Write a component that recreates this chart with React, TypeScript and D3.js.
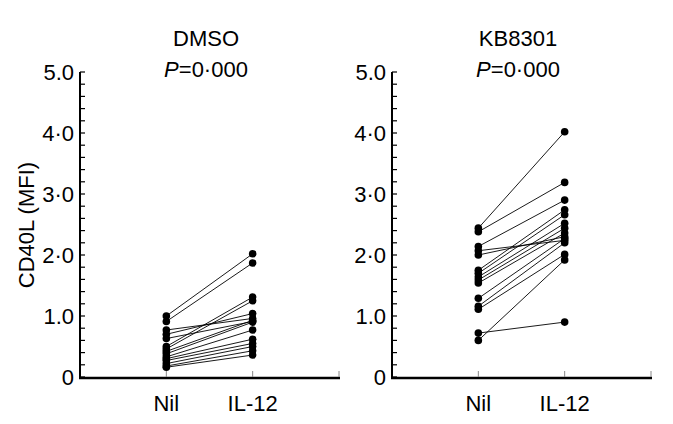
import React from "react";
import * as d3 from "d3";

const groups = ["Nil", "IL-12"];
const yTickValues = [0, 1, 2, 3, 4, 5];
const yTickLabels = ["0", "1.0", "2·0", "3·0", "4·0", "5.0"];
const panelTitles = ["DMSO", "KB8301"];
const pLabels = ["0·000", "0·000"];

const dmsoNil = [1.0, 0.91, 0.77, 0.7, 0.63, 0.5, 0.46, 0.42, 0.38, 0.33, 0.3, 0.27, 0.22, 0.18, 0.16];
const dmsoIL12 = [2.02, 1.87, 0.96, 1.04, 0.91, 1.31, 1.25, 0.93, 0.9, 0.77, 0.62, 0.55, 0.5, 0.43, 0.36];

const kbNil = [2.44, 2.38, 2.14, 2.07, 2.0, 1.75, 1.7, 1.64, 1.59, 1.54, 1.29, 1.16, 1.11, 0.72, 0.6];
const kbIL12 = [4.02, 3.19, 2.9, 2.24, 2.3, 2.74, 2.66, 2.52, 2.44, 2.36, 2.27, 2.2, 2.01, 0.9, 1.92];

const W = 673;
const H = 424;
const FONT = "'Liberation Sans', Arial, sans-serif";
const FS = 22;

const y = d3.scaleLinear().domain([0, 5]).range([377, 72]);
const minorTicks = d3.range(0, 5.0001, 0.2);

function Panel({ x0, title, p, nil, il }: { x0: number; title: string; p: string; nil: number[]; il: number[] }) {
  const x = d3.scaleLinear().domain([0, 3]).range([x0, x0 + 259]);
  const cx = x0 + 126;
  return (
    <g>
      <text x={cx} y={46} textAnchor="middle" fontSize={FS} fontFamily={FONT}>{title}</text>
      <text x={cx} y={77} textAnchor="middle" fontSize={FS} fontFamily={FONT}>
        <tspan fontStyle="italic">P</tspan>={p}
      </text>
      {/* y axis */}
      <line x1={x0} x2={x0} y1={y(5)} y2={y(0) + 1} stroke="#000" strokeWidth={2} />
      {minorTicks.map((t, i) => (
        <line key={i} x1={x0} x2={x0 + 5} y1={y(t)} y2={y(t)} stroke="#000" strokeWidth={1.2} />
      ))}
      {yTickValues.map((t, i) => (
        <text key={t} x={x0 - 6} y={y(t)} dy="0.36em" textAnchor="end" fontSize={FS} fontFamily={FONT}>
          {yTickLabels[i]}
        </text>
      ))}
      {/* x axis */}
      <line x1={x0 - 1} x2={x(3) + 1} y1={y(0) + 1} y2={y(0) + 1} stroke="#000" strokeWidth={2.5} />
      {[1, 2, 3].map((t) => (
        <line key={t} x1={x(t)} x2={x(t)} y1={y(0)} y2={y(0) - 6} stroke="#888" strokeWidth={1} />
      ))}
      {groups.map((g, i) => (
        <text key={g} x={x(i + 1)} y={411} textAnchor="middle" fontSize={FS} fontFamily={FONT}>{g}</text>
      ))}
      {/* paired lines */}
      {nil.map((v, i) => (
        <line key={"l" + i} x1={x(1)} y1={y(v)} x2={x(2)} y2={y(il[i])} stroke="#000" strokeWidth={0.9} />
      ))}
      {nil.map((v, i) => (
        <circle key={"a" + i} cx={x(1)} cy={y(v)} r={3.8} fill="#000" />
      ))}
      {il.map((v, i) => (
        <circle key={"b" + i} cx={x(2)} cy={y(v)} r={3.8} fill="#000" />
      ))}
    </g>
  );
}

export default function App() {
  return (
    <svg width={W} height={H} style={{ position: "absolute", left: 0, top: 0, background: "#fff" }}>
      <rect width={W} height={H} fill="#fff" />
      <text transform="translate(34,225) rotate(-90)" textAnchor="middle" fontSize={FS} fontFamily={FONT}>
        CD40L (MFI)
      </text>
      <Panel x0={80} title={panelTitles[0]} p={pLabels[0]} nil={dmsoNil} il={dmsoIL12} />
      <Panel x0={392} title={panelTitles[1]} p={pLabels[1]} nil={kbNil} il={kbIL12} />
    </svg>
  );
}
